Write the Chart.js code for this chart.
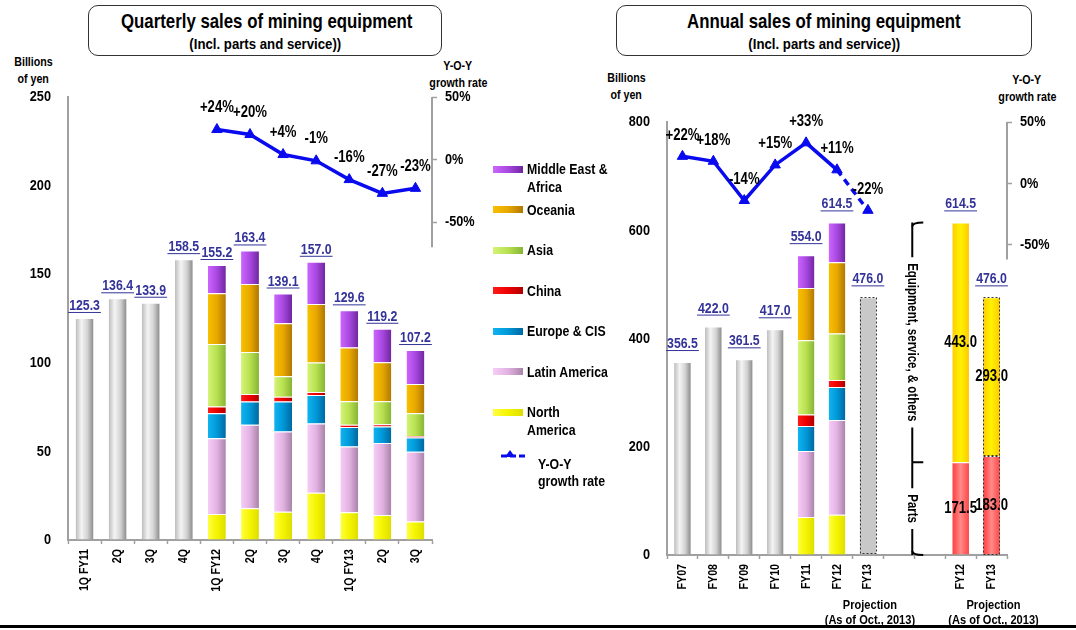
<!DOCTYPE html>
<html>
<head>
<meta charset="utf-8">
<script src="https://cdn.jsdelivr.net/npm/chart.js@4.4.1/dist/chart.umd.min.js"></script>
<style>
  html, body { margin: 0; padding: 0; background: #fff; }
  body {
    width: 1076px; height: 630px; position: relative; overflow: hidden;
    font-family: "Liberation Sans", Arial, sans-serif;
    font-weight: bold; color: #000;
  }
  canvas { position: absolute; top: 0; }
  /* condensed look: horizontally squeezed bold sans */
  .n { display: inline-block; transform: scaleX(0.82); white-space: pre; }
  .title-box {
    position: absolute; top: 5px; height: 51px; box-sizing: border-box;
    border: 1.5px solid #333; border-radius: 10px; text-align: center;
  }
  .title-box .main { font-size: 20.5px; line-height: 24px; margin-top: 3px; }
  .title-box .sub { font-size: 15px; line-height: 18px; margin-top: 2px; }
  .title-box .sub .n { transform: scaleX(0.88); }
  .note { position: absolute; font-size: 13px; line-height: 16.5px; text-align: center; white-space: nowrap; }
  #legend { position: absolute; left: 493px; top: 160px; width: 130px; }
  .item { height: 40.5px; display: flex; align-items: flex-start; font-size: 15px; line-height: 18px; }
  .item .n { transform-origin: 0 0; }
  .swatch { width: 30px; height: 7px; margin-top: 5.5px; margin-right: 4px; flex: none; }
  .rule { position: absolute; left: 0; top: 625px; width: 1076px; height: 3px; background: #000; }
</style>
</head>
<body>

<div class="title-box" style="left:88px; width:354px;">
  <div class="main"><span class="n">Quarterly sales of mining equipment</span></div>
  <div class="sub"><span class="n">(Incl. parts and service))</span></div>
</div>
<div class="title-box" style="left:616px; width:416px;">
  <div class="main"><span class="n">Annual sales of mining equipment</span></div>
  <div class="sub"><span class="n">(Incl. parts and service))</span></div>
</div>

<div class="note" style="left:3px; top:54px; width:60px;"><span class="n">Billions</span><br><span class="n">of yen</span></div>
<div class="note" style="left:418px; top:58px; width:80px;"><span class="n">Y-O-Y</span><br><span class="n">growth rate</span></div>
<div class="note" style="left:596px; top:70px; width:60px;"><span class="n">Billions</span><br><span class="n">of yen</span></div>
<div class="note" style="left:987px; top:72px; width:80px;"><span class="n">Y-O-Y</span><br><span class="n">growth rate</span></div>

<canvas id="quarterly" width="480" height="630" style="left:0;"></canvas>
<canvas id="annual" width="476" height="630" style="left:600px;"></canvas>

<div id="legend"></div>
<div class="rule"></div>

<script>
// ---------- Quarterly sales, billions of yen ----------
const quarterLabels = ['1Q FY11', '2Q', '3Q', '4Q', '1Q FY12', '2Q', '3Q', '4Q', '1Q FY13', '2Q', '3Q'];
const quarterTotalsOnly = [125.3, 136.4, 133.9, 158.5, null, null, null, null, null, null, null];
const qNorthAmerica     = [null, null, null, null, 14.7, 17.9, 16.0, 26.7, 15.6, 14.1, 10.5];
const qLatinAmerica     = [null, null, null, null, 42.7, 47.2, 45.3, 39.0, 37.1, 40.6, 39.3];
const qEuropeCIS        = [null, null, null, null, 14.1, 13.0, 16.8, 16.1, 11.1, 9.3, 8.0];
const qChina            = [null, null, null, null, 3.9, 4.3, 2.8, 1.7, 1.3, 1.3, 0.9];
const qAsia             = [null, null, null, null, 35.2, 23.7, 11.5, 16.6, 13.2, 13.0, 12.8];
const qOceania          = [null, null, null, null, 28.6, 38.4, 29.9, 33.1, 30.4, 22.0, 16.5];
const qMiddleEastAfrica = [null, null, null, null, 16.0, 18.9, 16.8, 23.8, 20.9, 18.9, 19.2];
const quarterGrowth     = [null, null, null, null, 24, 20, 4, -1, -16, -27, -23];

// ---------- Annual sales, billions of yen ----------
const yearLabels = ['FY07', 'FY08', 'FY09', 'FY10', 'FY11', 'FY12', 'FY13', '', '', 'FY12', 'FY13'];
const yearTotalsOnly    = [356.5, 422.0, 361.5, 417.0, null, null, 476.0, null, null, null, null];
const yNorthAmerica     = [null, null, null, null, 70.2, 74.5, null, null, null, null, null];
const yLatinAmerica     = [null, null, null, null, 121.8, 174.7, null, null, null, null, null];
const yEuropeCIS        = [null, null, null, null, 46.2, 61.0, null, null, null, null, null];
const yChina            = [null, null, null, null, 21.5, 12.9, null, null, null, null, null];
const yAsia             = [null, null, null, null, 137.2, 86.1, null, null, null, null, null];
const yOceania          = [null, null, null, null, 96.6, 131.8, null, null, null, null, null];
const yMiddleEastAfrica = [null, null, null, null, 60.5, 73.5, null, null, null, null, null];
const yParts            = [null, null, null, null, null, null, null, null, null, 171.5, 183.0];
const yEquipment        = [null, null, null, null, null, null, null, null, null, 443.0, 293.0];
const yearGrowth        = [22, 18, -14, 15, 33, 11, -22, null, null, null, null];
const projectionIndices = [6, 10];

const regionNames = ['North\nAmerica', 'Latin America', 'Europe & CIS', 'China', 'Asia', 'Oceania', 'Middle East &\nAfrica'];

// ---------- styling ----------
const FONT = '"Liberation Sans", Arial, sans-serif';
const NARROW = 0.82;
const BAR_SHARE = 0.54;
const AXIS_GREY = '#a0a0a0';
const LINE_BLUE = '#0a0aee';
const VALUE_BLUE = '#333399';
const regionShades = [
  ['#ffff40', '#f4f400', '#dede00'],
  ['#f6cdf6', '#e2b2e2', '#a883a8'],
  ['#10b4f0', '#0098d8', '#0068a0'],
  ['#ff1a1a', '#ee0000', '#b00000'],
  ['#d4f478', '#b8e050', '#86b434'],
  ['#f8c000', '#e8a800', '#b07800'],
  ['#cc66ff', '#a848e0', '#7026a0']
];
const greyShades = ['#bcbcbc', '#f4f4f4', '#d2d2d2', '#8a8a8a'];
const partsShades = ['#ff3c3c', '#ff8a8a', '#ff4646'];
const equipShades = ['#ffcc00', '#fff200', '#ffc800'];

Chart.defaults.font.family = FONT;
Chart.defaults.font.weight = 'bold';
Chart.defaults.color = '#000';

// Bold text squeezed horizontally; returns the drawn width.
function narrowText(ctx, text, x, y, o) {
  ctx.save();
  ctx.font = 'bold ' + o.size + 'px ' + FONT;
  ctx.fillStyle = o.color || '#000';
  ctx.textAlign = o.align || 'center';
  ctx.textBaseline = o.baseline || 'middle';
  ctx.translate(x, y);
  if (o.rotate) ctx.rotate(o.rotate);
  ctx.scale(NARROW, 1);
  ctx.fillText(text, 0, 0);
  const w = ctx.measureText(text).width * NARROW;
  ctx.restore();
  return w;
}

// Horizontal shading across a bar so it reads as a rounded column.
function shade(stops, flatAt) {
  return (c) => {
    const chart = c.chart, xs = chart.scales.x;
    if (flatAt && flatAt.includes(c.dataIndex)) return '#c8c8c8';
    if (c.type !== 'data' || !xs || !chart.chartArea) return stops[1];
    const cx = xs.getPixelForValue(c.dataIndex);
    const half = xs.width / chart.data.labels.length * BAR_SHARE / 2;
    const g = chart.ctx.createLinearGradient(cx - half, 0, cx + half, 0);
    stops.forEach((col, k) => g.addColorStop(k / (stops.length - 1), col));
    return g;
  };
}

function barSet(label, data, stops, extra) {
  return Object.assign({
    type: 'bar', label, data, stack: 'all', yAxisID: 'y', order: 2,
    backgroundColor: shade(stops),
    borderColor: 'rgba(255,255,255,0.9)',
    borderWidth: { top: 1, left: 0, right: 0, bottom: 0 },
    barPercentage: BAR_SHARE, categoryPercentage: 1
  }, extra || {});
}

function regionSets(series) {
  return series.map((data, i) => barSet(regionNames[i].replace('\n', ' '), data, regionShades[i]));
}

function growthSet(data, dashFrom) {
  return {
    type: 'line', label: 'Y-O-Y growth rate', data, yAxisID: 'y2', order: 0,
    borderColor: LINE_BLUE, backgroundColor: LINE_BLUE, borderWidth: 3.5,
    pointStyle: 'triangle', pointRadius: 6, pointBorderWidth: 1,
    segment: { borderDash: c => (dashFrom != null && c.p1DataIndex >= dashFrom) ? [7, 5] : undefined }
  };
}

const fmtPct = v => (v > 0 ? '+' : '') + v + '%';

// Tick labels for all three axes, in the squeezed face.
const axisLabels = {
  id: 'axisLabels',
  afterDraw(chart) {
    const ctx = chart.ctx, { x, y, y2 } = chart.scales;
    x.ticks.forEach((t, i) => {
      const label = chart.data.labels[t.value];
      if (label) narrowText(ctx, label, x.getPixelForTick(i), x.top + 9, { size: 13, align: 'right', rotate: -Math.PI / 2 });
    });
    y.ticks.forEach((t, i) => narrowText(ctx, String(t.value), y.right - 17, y.getPixelForTick(i), { size: 15.5, align: 'right' }));
    y2.ticks.forEach((t, i) => narrowText(ctx, t.value + '%', y2.left + 13, y2.getPixelForTick(i), { size: 15.5, align: 'left' }));
  }
};

// Totals above each column, underlined in blue.
const totalLabels = {
  id: 'totalLabels',
  afterDatasetsDraw(chart, args, o) {
    const ctx = chart.ctx, ys = chart.scales.y;
    const bars = chart.data.datasets.map((d, i) => [d, i]).filter(([d]) => d.type === 'bar');
    chart.data.labels.forEach((_, idx) => {
      let total = 0, first = null;
      bars.forEach(([d, di]) => { const v = d.data[idx]; if (v != null) { total += v; if (first === null) first = di; } });
      if (first === null) return;
      const el = chart.getDatasetMeta(first).data[idx];
      const txt = total.toFixed(1);
      const base = ys.getPixelForValue(total) - o.lift;
      const w = narrowText(ctx, txt, el.x, base, { size: 15, baseline: 'alphabetic', color: VALUE_BLUE });
      ctx.save();
      ctx.strokeStyle = VALUE_BLUE; ctx.lineWidth = 1;
      ctx.beginPath(); ctx.moveTo(el.x - w / 2 - 1, base + 2.5); ctx.lineTo(el.x + w / 2 + 1, base + 2.5); ctx.stroke();
      ctx.restore();
    });
  }
};

// Percent labels above growth-rate points.
const growthLabels = {
  id: 'growthLabels',
  afterDatasetsDraw(chart, args, o) {
    const ctx = chart.ctx;
    chart.data.datasets.forEach((d, di) => {
      if (d.type !== 'line') return;
      chart.getDatasetMeta(di).data.forEach((pt, i) => {
        const v = d.data[i]; if (v == null) return;
        narrowText(ctx, fmtPct(v), pt.x, pt.y - o.lift, { size: 16 });
      });
    });
  }
};

// The growth-rate axis line only spans the upper part of the plot.
const rateAxisLine = {
  id: 'rateAxisLine',
  afterDraw(chart, args, o) {
    const s = chart.scales.y2, ctx = chart.ctx;
    ctx.save();
    ctx.strokeStyle = AXIS_GREY; ctx.lineWidth = 2;
    ctx.beginPath();
    ctx.moveTo(s.left, s.getPixelForValue(s.max));
    ctx.lineTo(s.left, s.getPixelForValue(o.floor));
    ctx.stroke();
    ctx.restore();
  }
};

// Dotted outline on projected columns.
const projectionOutline = {
  id: 'projectionOutline',
  afterDatasetsDraw(chart, args, o) {
    if (!o.indices) return;
    const ctx = chart.ctx;
    ctx.save();
    ctx.strokeStyle = '#333'; ctx.lineWidth = 1; ctx.setLineDash([2, 2]);
    chart.data.datasets.forEach((d, di) => {
      if (d.type !== 'bar') return;
      o.indices.forEach(i => {
        if (d.data[i] == null) return;
        const el = chart.getDatasetMeta(di).data[i];
        const top = Math.min(el.y, el.base), h = Math.abs(el.base - el.y);
        ctx.strokeRect(Math.round(el.x - el.width / 2) + 0.5, Math.round(top) + 0.5, Math.round(el.width) - 1, Math.round(h) - 1);
      });
    });
    ctx.restore();
  }
};

// Values written inside the parts / equipment columns.
const insideLabels = {
  id: 'insideLabels',
  afterDatasetsDraw(chart) {
    const ctx = chart.ctx;
    chart.data.datasets.forEach((d, di) => {
      if (!d.insideLabel) return;
      chart.getDatasetMeta(di).data.forEach((el, i) => {
        const v = d.data[i]; if (v == null) return;
        narrowText(ctx, v.toFixed(1), el.x, (el.y + el.base) / 2, { size: 16 });
      });
    });
  }
};

// Bracket naming the two parts of the split columns, plus projection notes.
const annualNotes = {
  id: 'annualNotes',
  afterDraw(chart, args, o) {
    if (!o.enabled) return;
    const ctx = chart.ctx, xs = chart.scales.x, ys = chart.scales.y;
    const idx = yParts.findIndex(v => v != null);
    const bx = (xs.getPixelForValue(idx - 2) + xs.getPixelForValue(idx - 1)) / 2 - 2;
    const yTop = ys.getPixelForValue(yParts[idx] + yEquipment[idx]);
    const yMid = ys.getPixelForValue(yParts[idx]);
    const yBot = ys.getPixelForValue(0);
    const hook = 11;
    ctx.save();
    ctx.strokeStyle = '#000'; ctx.lineWidth = 2;
    ctx.font = 'bold 14px ' + FONT;
    const piece = (y1, y2, label) => {
      const mid = (y1 + y2) / 2, half = ctx.measureText(label).width * NARROW / 2 + 6;
      ctx.beginPath();
      ctx.moveTo(bx, y1); ctx.lineTo(bx, mid - half);
      ctx.moveTo(bx, mid + half); ctx.lineTo(bx, y2);
      ctx.stroke();
      narrowText(ctx, label, bx, mid, { size: 14, rotate: Math.PI / 2 });
    };
    piece(yTop, yMid, 'Equipment, service, & others');
    piece(yMid, yBot, 'Parts');
    ctx.beginPath();
    ctx.moveTo(bx + hook, yTop); ctx.quadraticCurveTo(bx, yTop, bx, yTop + 4);
    ctx.moveTo(bx, yMid); ctx.lineTo(bx + hook, yMid);
    ctx.moveTo(bx, yBot - 4); ctx.quadraticCurveTo(bx, yBot, bx + hook, yBot);
    ctx.stroke();
    ctx.restore();

    projectionIndices.forEach(i => {
      const px = xs.getPixelForValue(i) + 2;
      narrowText(ctx, 'Projection', px, chart.chartArea.bottom + 50, { size: 13.5 });
      narrowText(ctx, '(As of Oct., 2013)', px, chart.chartArea.bottom + 65, { size: 13.5 });
    });
  }
};

function buildOptions(cfg) {
  return {
    responsive: false, animation: false, devicePixelRatio: 1,
    layout: { padding: { top: cfg.top, left: 0, right: 0, bottom: 0 } },
    plugins: {
      legend: { display: false }, tooltip: { enabled: false },
      totalLabels: { lift: cfg.labelLift },
      growthLabels: { lift: cfg.pctLift },
      rateAxisLine: { floor: cfg.rateFloor },
      projectionOutline: { indices: cfg.projection },
      annualNotes: { enabled: cfg.notes }
    },
    scales: {
      x: {
        stacked: true, offset: true,
        grid: { display: true, drawOnChartArea: false, color: AXIS_GREY, tickLength: 4, tickWidth: 1.5 },
        border: { color: AXIS_GREY, width: 2 },
        ticks: { display: false, autoSkip: false },
        afterFit: s => { s.height = cfg.xHeight; }
      },
      y: {
        stacked: true, min: 0, max: cfg.yMax,
        grid: { drawOnChartArea: false, drawTicks: false },
        border: { color: AXIS_GREY, width: 2 },
        ticks: { display: false, stepSize: cfg.yStep },
        afterFit: s => { s.width = cfg.yWidth; }
      },
      y2: {
        position: 'right', min: cfg.rateMin, max: 50,
        grid: { drawOnChartArea: false, color: AXIS_GREY, tickLength: 5, tickWidth: 1.5 },
        border: { display: false },
        afterBuildTicks: s => { s.ticks = [50, 0, -50].map(value => ({ value })); },
        ticks: { display: false },
        afterFit: s => { s.width = cfg.y2Width; }
      }
    }
  };
}

const plugins = [totalLabels, growthLabels, rateAxisLine, projectionOutline, insideLabels, annualNotes, axisLabels];

new Chart(document.getElementById('quarterly'), {
  data: {
    labels: quarterLabels,
    datasets: [
      growthSet(quarterGrowth, null),
      barSet('Total', quarterTotalsOnly, greyShades),
      ...regionSets([qNorthAmerica, qLatinAmerica, qEuropeCIS, qChina, qAsia, qOceania, qMiddleEastAfrica])
    ]
  },
  options: buildOptions({
    top: 97, xHeight: 90, yWidth: 68, y2Width: 48, yMax: 250, yStep: 50,
    rateMin: -304, rateFloor: -70, labelLift: 8, pctLift: 22, projection: null, notes: false
  }),
  plugins
});

new Chart(document.getElementById('annual'), {
  data: {
    labels: yearLabels,
    datasets: [
      growthSet(yearGrowth, projectionIndices[0]),
      barSet('Total', yearTotalsOnly, greyShades, { backgroundColor: shade(greyShades, projectionIndices) }),
      ...regionSets([yNorthAmerica, yLatinAmerica, yEuropeCIS, yChina, yAsia, yOceania, yMiddleEastAfrica]),
      barSet('Parts', yParts, partsShades, { insideLabel: true }),
      barSet('Equipment, service, & others', yEquipment, equipShades, { insideLabel: true })
    ]
  },
  options: buildOptions({
    top: 122, xHeight: 75, yWidth: 67, y2Width: 69, yMax: 800, yStep: 200,
    rateMin: -303, rateFloor: -62, labelLift: 14, pctLift: 21, projection: projectionIndices, notes: true
  }),
  plugins
});

// Legend for the regional breakdown, top region first.
const legend = document.getElementById('legend');
regionNames.map((name, i) => [name, regionShades[i]]).reverse().forEach(([name, stops]) => {
  const row = document.createElement('div');
  row.className = 'item';
  const sw = document.createElement('span');
  sw.className = 'swatch';
  sw.style.background = 'linear-gradient(to right, ' + stops.join(', ') + ')';
  const tx = document.createElement('span');
  tx.className = 'n';
  tx.textContent = name;
  row.appendChild(sw); row.appendChild(tx);
  legend.appendChild(row);
});
const rateRow = document.createElement('div');
rateRow.className = 'item';
rateRow.innerHTML =
  '<svg width="41" height="20" style="flex:none;margin-left:4px">' +
  '<line x1="4" y1="12" x2="28" y2="12" stroke="' + LINE_BLUE + '" stroke-width="3" stroke-dasharray="6,3"/>' +
  '<polygon points="13,6 18,13 8,13" fill="' + LINE_BLUE + '"/></svg>' +
  '<span class="n" style="margin-top:11px;line-height:17px">Y-O-Y\ngrowth rate</span>';
legend.appendChild(rateRow);
</script>
</body>
</html>
